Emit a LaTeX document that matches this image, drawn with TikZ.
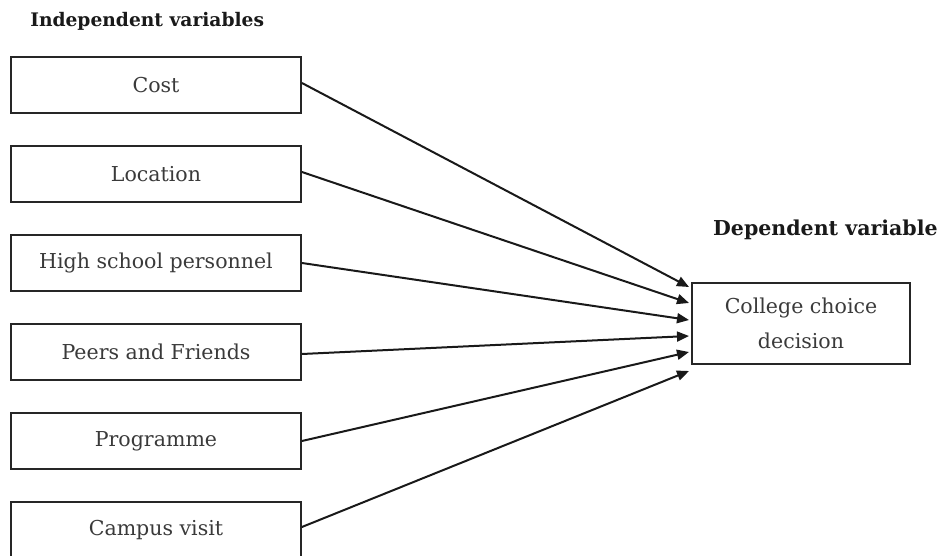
\documentclass[tikz,border=0pt]{standalone}
\usepackage{fontspec}
\setmainfont{DejaVu Serif}
\usetikzlibrary{arrows.meta}
\definecolor{txt}{HTML}{3A3A3A}
\begin{document}
\begin{tikzpicture}[x=0.75pt,y=-0.75pt,
  varbox/.style={draw=black!85,line width=1.4pt,minimum width=217.5pt,minimum height=42pt,inner sep=0pt,text=txt,font=\fontsize{15.4}{18}\selectfont},
  depbox/.style={draw=black!85,line width=1.4pt,minimum width=163.5pt,minimum height=61pt,inner sep=0pt,text=txt,align=center,font=\fontsize{15.4}{26}\selectfont},
  head/.style={font=\bfseries\fontsize{14}{16}\selectfont,text=black!90,inner sep=0pt},
  conn/.style={line width=1.5pt,black!90,-{Triangle[length=9pt,width=7.5pt]}}]
\useasboundingbox (0,0) rectangle (940,556);
\node[head,anchor=west] (h1) at (30,21) {Independent variables};
\node[head,anchor=east,font=\bfseries\fontsize{15.4}{17}\selectfont] (h2) at (938,230) {Dependent variable};
\node[varbox] (b1) at (156,85) {Cost};
\node[varbox] (b2) at (156,174) {Location};
\node[varbox] (b3) at (156,263) {High school personnel};
\node[varbox] (b4) at (156,352) {Peers and Friends};
\node[varbox] (b5) at (156,441) {Programme};
\node[varbox] (b6) at (156,530) {Campus visit};
\node[depbox] (d) at (801,323.5) {College choice\\decision};
\coordinate (t1) at (689,287);
\coordinate (t2) at (689,303);
\coordinate (t3) at (689,320);
\coordinate (t4) at (689,336);
\coordinate (t5) at (689,352);
\coordinate (t6) at (689,371);
\draw[conn] (b1.east) ++(0,-2) -- (t1);
\draw[conn] (b2.east) ++(0,-2) -- (t2);
\draw[conn] (b3.east) -- (t3);
\draw[conn] (b4.east) ++(0,2) -- (t4);
\draw[conn] (b5.east) -- (t5);
\draw[conn] (b6.east) ++(0,-3) -- (t6);
\end{tikzpicture}
\end{document}
